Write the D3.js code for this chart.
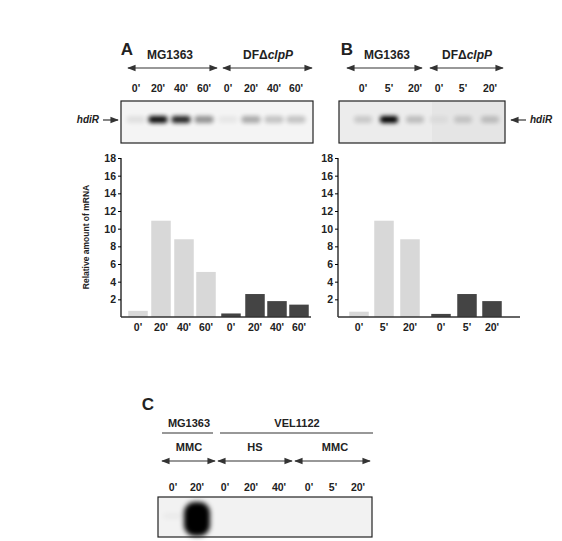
<!DOCTYPE html>
<html><head><meta charset="utf-8">
<script src="https://cdn.jsdelivr.net/npm/d3@7"></script>
<style>body{margin:0;background:#fff}text{font-family:"Liberation Sans",Arial,sans-serif;font-weight:bold;fill:#222}</style>
</head><body>
<script>
// values
const timesA = ["0'", "20'", "40'", "60'", "0'", "20'", "40'", "60'"];
const valuesA = [0.7, 10.9, 8.8, 5.1, 0.4, 2.6, 1.8, 1.4];
const groupA = ["wt", "wt", "wt", "wt", "mut", "mut", "mut", "mut"];
const timesB = ["0'", "5'", "20'", "0'", "5'", "20'"];
const valuesB = [0.6, 10.9, 8.8, 0.35, 2.6, 1.8];
const groupB = ["wt", "wt", "wt", "mut", "mut", "mut"];
const bandA = [0.08, 0.95, 0.85, 0.4, 0.05, 0.3, 0.2, 0.2];
const bandB = [0.15, 1, 0.2, 0.08, 0.25, 0.3];
const timesC = ["0'", "20'", "0'", "20'", "40'", "0'", "5'", "20'"];
const bandC = [0.03, 1, 0, 0, 0, 0, 0, 0];
const yTicks = [2, 4, 6, 8, 10, 12, 14, 16, 18];

const svg = d3.select("body").append("svg").attr("width", 562).attr("height", 541);
const defs = svg.append("defs");
defs.append("filter").attr("id", "blur").attr("x", "-50%").attr("y", "-100%").attr("width", "200%").attr("height", "300%")
  .append("feGaussianBlur").attr("stdDeviation", 2.2);
defs.append("filter").attr("id", "blur2").attr("x", "-50%").attr("y", "-50%").attr("width", "200%").attr("height", "200%")
  .append("feGaussianBlur").attr("stdDeviation", 2.5);
const mk = defs.append("marker").attr("id", "ah").attr("viewBox", "0 0 10 10").attr("refX", 9).attr("refY", 5)
  .attr("markerWidth", 7).attr("markerHeight", 7).attr("orient", "auto-start-reverse");
mk.append("path").attr("d", "M0,1L10,5L0,9Z").attr("fill", "#333");

function dblArrow(x1, x2, y) {
  svg.append("line").attr("x1", x1).attr("x2", x2).attr("y1", y).attr("y2", y)
    .attr("stroke", "#333").attr("stroke-width", 1.2)
    .attr("marker-start", "url(#ah)").attr("marker-end", "url(#ah)");
}
function label(x, y, t, size, anchor) {
  return svg.append("text").attr("x", x).attr("y", y).attr("text-anchor", anchor || "middle")
    .attr("font-size", size || 10.5).text(t);
}
function strainLabel(x, y) {
  const t = label(x, y, "DF", 12);
  t.append("tspan").text("Δ");
  t.append("tspan").attr("font-style", "italic").text("clpP");
}
function blot(x0, x1, y0, y1, centers, bands, bandY, bw, bg) {
  svg.append("rect").attr("x", x0).attr("y", y0).attr("width", x1 - x0).attr("height", y1 - y0)
    .attr("fill", bg).attr("stroke", "#222").attr("stroke-width", 1.2);
  const g = svg.append("g");
  centers.forEach((c, i) => {
    if (bands[i] <= 0) return;
    g.append("rect").attr("x", c - bw / 2).attr("y", bandY - 4).attr("width", bw).attr("height", 7).attr("rx", 3)
      .attr("fill", "#000").attr("opacity", bands[i]).attr("filter", "url(#blur)");
  });
}

// ---------- Panel A ----------
label(127, 55, "A", 17);
label(170, 59, "MG1363", 12);
strainLabel(268, 59);
dblArrow(128, 217, 68);
dblArrow(223, 312, 68);
const posA = [136, 158, 181, 204, 228, 251, 274, 296];
posA.forEach((x, i) => label(x, 92, timesA[i]));
blot(121, 313, 101, 143, posA, bandA, 120, 19, "#f4f4f4");
label(99, 123, "hdiR", 10, "end").attr("font-style", "italic");
svg.append("line").attr("x1", 103).attr("x2", 118).attr("y1", 120).attr("y2", 120)
  .attr("stroke", "#333").attr("stroke-width", 1.2).attr("marker-end", "url(#ah)");

const y = d3.scaleLinear().domain([0, 18]).range([317, 158]);
function barChart(axX, axEnd, centers, values, groups, times) {
  const g = svg.append("g");
  const bw = 19.5;
  g.selectAll("rect").data(values).enter().append("rect")
    .attr("x", (d, i) => centers[i] - bw / 2).attr("y", d => y(d))
    .attr("width", bw).attr("height", d => y(0) - y(d))
    .attr("fill", (d, i) => groups[i] === "wt" ? "#d8d8d8" : "#444");
  const ax = g.append("g").attr("transform", `translate(${axX},0)`)
    .call(d3.axisLeft(y).tickValues(yTicks).tickSize(3).tickPadding(2));
  ax.select(".domain").attr("stroke", "#333").attr("stroke-width", 1.5).attr("d", `M0,${y(0)}V${y(18)}`);
  ax.selectAll("text").attr("font-size", 10.5).style("fill", "#222");
  g.append("line").attr("x1", axX).attr("x2", axEnd).attr("y1", y(0)).attr("y2", y(0))
    .attr("stroke", "#333").attr("stroke-width", 1.5);
  centers.forEach((x, i) => label(x, 331, times[i]));
}
barChart(121, 311, [138, 161, 184, 206, 231, 255, 277, 299], valuesA, groupA, timesA);
svg.append("text").attr("transform", "translate(89,237) rotate(-90)").attr("text-anchor", "middle")
  .attr("font-size", 8.5).text("Relative amount of mRNA");

// ---------- Panel B ----------
label(347, 55, "B", 17);
label(387, 59, "MG1363", 12);
strainLabel(467, 59);
dblArrow(347, 422, 68);
dblArrow(430, 503, 68);
const posB = [363, 389, 415, 439, 463, 490];
posB.forEach((x, i) => label(x, 92, timesB[i]));
blot(339, 505, 101, 143, posB, bandB, 120, 18, "#ececec");
svg.append("rect").attr("x", 432).attr("y", 102).attr("width", 72).attr("height", 40).attr("fill", "#ddd").attr("opacity", 0.4);
svg.append("line").attr("x1", 526).attr("x2", 511).attr("y1", 120).attr("y2", 120)
  .attr("stroke", "#333").attr("stroke-width", 1.2).attr("marker-end", "url(#ah)");
label(530, 123, "hdiR", 10, "start").attr("font-style", "italic");
barChart(338, 520, [359, 384, 410, 441, 467, 492], valuesB, groupB, timesB);

// ---------- Panel C ----------
label(148, 410, "C", 17);
label(189, 427, "MG1363", 11);
label(297, 427, "VEL1122", 11);
svg.append("line").attr("x1", 162).attr("x2", 213).attr("y1", 433).attr("y2", 433).attr("stroke", "#333").attr("stroke-width", 1.2);
svg.append("line").attr("x1", 220).attr("x2", 373).attr("y1", 433).attr("y2", 433).attr("stroke", "#333").attr("stroke-width", 1.2);
label(189, 451, "MMC", 11);
label(255, 451, "HS", 11);
label(335, 451, "MMC", 11);
dblArrow(162, 215, 461);
dblArrow(218, 292, 461);
dblArrow(295, 370, 461);
const posC = [173, 197, 225, 251, 279, 309, 333, 358];
posC.forEach((x, i) => label(x, 491, timesC[i]));
svg.append("rect").attr("x", 158).attr("y", 497).attr("width", 214).attr("height", 40)
  .attr("fill", "#f2f2f2").attr("stroke", "#222").attr("stroke-width", 1.2);
posC.forEach((x, i) => {
  if (bandC[i] <= 0) return;
  const big = bandC[i] > 0.5;
  svg.append("rect").attr("x", x - (big ? 13 : 10)).attr("y", big ? 502 : 513).attr("width", big ? 26 : 20)
    .attr("height", big ? 34 : 6).attr("rx", big ? 11 : 3)
    .attr("fill", "#000").attr("opacity", bandC[i]).attr("filter", "url(#blur2)");
});
</script>
</body></html>
